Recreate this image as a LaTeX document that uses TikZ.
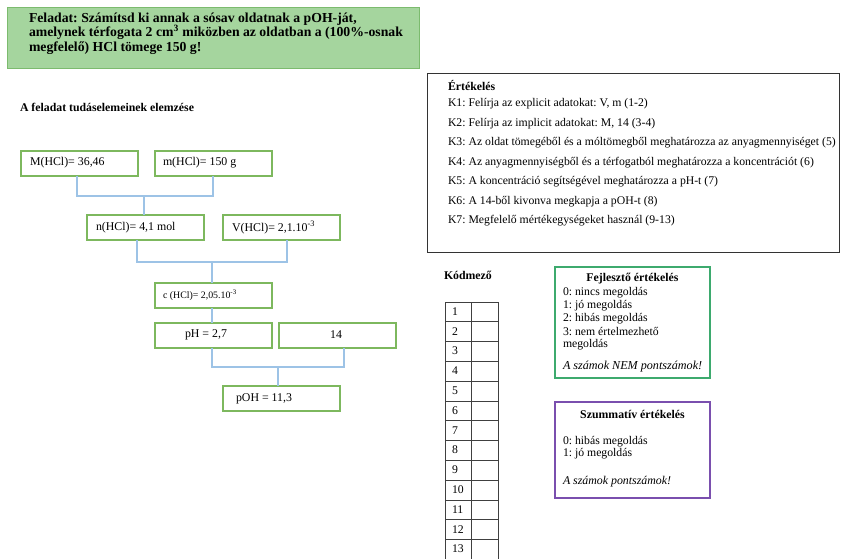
\documentclass[tikz,border=0pt]{standalone}
\usepackage{fontspec}
\setmainfont{Liberation Serif}
\frenchspacing
\definecolor{hdrfill}{HTML}{A5D59E}
\definecolor{hdrline}{HTML}{7CBB6E}
\definecolor{boxline}{HTML}{7DB85E}
\definecolor{linkblue}{HTML}{9DC3E6}
\definecolor{fejline}{HTML}{3DAA6E}
\definecolor{szumline}{HTML}{7A4FAE}
\begin{document}
\begin{tikzpicture}[x=0.75pt,y=-0.75pt,
  every node/.style={inner sep=0pt,outer sep=0pt},
  txt/.style={anchor=west,font=\fontsize{8.8}{10}\selectfont},
  btxt/.style={anchor=west,font=\fontsize{8.85}{10}\selectfont\bfseries},
  ctxt/.style={anchor=west,font=\fontsize{8.9}{10}\selectfont},
  ltxt/.style={anchor=west,font=\fontsize{8.8}{10}\selectfont},
  calcbox/.style={draw=boxline,line width=0.9pt,minimum width=87.75pt,minimum height=18.75pt},
  link/.style={draw=linkblue,line width=0.8pt},
  cell/.style={draw=black!75,line width=0.6pt}]
\useasboundingbox (0,0) rectangle (841,559);

% task statement
\node[fill=hdrfill,draw=hdrline,line width=0.6pt,minimum width=309pt,minimum height=45.75pt,anchor=north west] (task) at (7,7) {};
\node[anchor=north west,align=left,font=\fontsize{10.3}{10.9}\selectfont\bfseries] (tasktext) at (29,12.5)
  {Feladat: Számítsd ki annak a sósav oldatnak a pOH-ját,\\
   amelynek térfogata 2 cm\textsuperscript{3} miközben az oldatban a (100\%-osnak\\
   megfelelő) HCl tömege 150 g!};

\node[btxt] (elemzes) at (20,107) {A feladat tudáselemeinek elemzése};

% calculation tree
\node[calcbox,anchor=north west] (M) at (21,151) {};
\node[ctxt] at (30,162.5) {M(HCl)= 36,46};
\node[calcbox,anchor=north west] (m) at (155,151) {};
\node[ctxt] at (163,162.5) {m(HCl)= 150 g};

\node[calcbox,anchor=north west] (n) at (87,215) {};
\node[ctxt] at (96,227.5) {n(HCl)= 4,1 mol};
\node[calcbox,anchor=north west] (V) at (223,215) {};
\node[ctxt] at (232,227.5) {V(HCl)= 2,1.10\textsuperscript{-3}};

\node[calcbox,anchor=north west] (c) at (155,283) {};
\node[ctxt,font=\fontsize{7.4}{8}\selectfont] at (163,295.5) {c (HCl)= 2,05.10\textsuperscript{-3}};

\node[calcbox,anchor=north west] (pH) at (155,323) {};
\node[ctxt] at (185,335) {pH = 2,7};
\node[calcbox,anchor=north west] (k14) at (279,323) {};
\node[font=\fontsize{8.9}{10}\selectfont] at (336,335) {14};

\node[calcbox,anchor=north west] (pOH) at (223,386) {};
\node[ctxt] at (236,398.5) {pOH = 11,3};

% joining brackets
\coordinate (j1) at (144,196);
\draw[link] (M.south -| 77,0) |- (j1) -| (m.south -| 213,0);
\draw[link] (j1) -- (j1 |- n.north);
\coordinate (j2) at (212,262);
\draw[link] (n.south -| 137,0) |- (j2) -| (V.south -| 287,0);
\draw[link] (j2) -- (j2 |- c.north);
\draw[link] (c.south -| 212,0) -- (pH.north -| 212,0);
\coordinate (j3) at (278,367);
\draw[link] (pH.south -| 212,0) |- (j3) -| (k14.south -| 344,0);
\draw[link] (j3) -- (j3 |- pOH.north);

% assessment criteria
\node[draw=black!80,line width=0.75pt,minimum width=309pt,minimum height=134pt,anchor=north west] (ert) at (427,74) {};
\node[btxt] at (448,85) {Értékelés};
\node[txt] at (448,104) {K1: Felírja az explicit adatokat: V, m (1-2)};
\node[txt] at (448,123.5) {K2: Felírja az implicit adatokat: M, 14 (3-4)};
\node[txt] at (448,143) {K3: Az oldat tömegéből és a móltömegből meghatározza az anyagmennyiséget (5)};
\node[txt] at (448,162.5) {K4: Az anyagmennyiségből és a térfogatból meghatározza a koncentrációt (6)};
\node[txt] at (448,182) {K5: A koncentráció segítségével meghatározza a pH-t (7)};
\node[txt] at (448,201.5) {K6: A 14-ből kivonva megkapja a pOH-t (8)};
\node[txt] at (448,221) {K7: Megfelelő mértékegységeket használ (9-13)};

% code field
\node[btxt] (kod) at (444,275) {Kódmező};
\foreach \i in {1,...,13}{
  \node[cell,anchor=north west,minimum width=19.5pt,minimum height=14.85pt] (num\i) at (445,{302+(\i-1)*19.8}) {};
  \node[cell,anchor=north west,minimum width=20.25pt,minimum height=14.85pt] (val\i) at (471,{302+(\i-1)*19.8}) {};
  \node[txt] at (452,{311.5+(\i-1)*19.8}) {\i};
}

% formative assessment
\node[draw=fejline,line width=1.5pt,minimum width=116pt,minimum height=83pt,anchor=north west] (fej) at (555,267) {};
\node[font=\fontsize{8.85}{10}\selectfont\bfseries] at (632.5,279) {Fejlesztő értékelés};
\node[ltxt] at (563,292.5) {0: nincs megoldás};
\node[ltxt] at (563,305.5) {1: jó megoldás};
\node[ltxt] at (563,318.5) {2: hibás megoldás};
\node[ltxt] at (563,331.5) {3: nem értelmezhető};
\node[ltxt] at (563,345) {megoldás};
\node[ltxt,font=\fontsize{9.1}{10}\selectfont\itshape] at (563,367) {A számok NEM pontszámok!};

% summative assessment
\node[draw=szumline,line width=1.5pt,minimum width=116pt,minimum height=72pt,anchor=north west] (szum) at (555,402) {};
\node[font=\fontsize{8.85}{10}\selectfont\bfseries] at (632.5,414) {Szummatív értékelés};
\node[ltxt] at (563,441.5) {0: hibás megoldás};
\node[ltxt] at (563,453.5) {1: jó megoldás};
\node[ltxt,font=\fontsize{8.9}{10}\selectfont\itshape] at (563,482) {A számok pontszámok!};
\end{tikzpicture}
\end{document}
